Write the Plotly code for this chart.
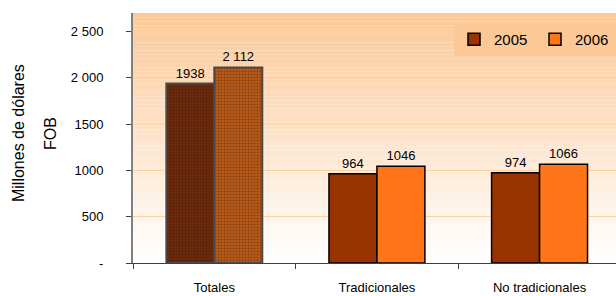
import plotly.graph_objects as go

categories = ["Totales", "Tradicionales", "No tradicionales"]
series_names = ["2005", "2006"]
values_2005 = [1938, 964, 974]
values_2006 = [2112, 1046, 1066]
labels_2005 = ["1938", "964", "974"]
labels_2006 = ["2 112", "1046", "1066"]
y_tickvals = [0, 500, 1000, 1500, 2000, 2500]
y_ticktext = ["-", "500", "1000", "1500", "2 000", "2 500"]

C2005 = "#993300"
C2006 = "#FF7518"
FONT = "Liberation Sans, Arial, sans-serif"

fig = go.Figure()

# Totales (patterned, no legend)
fig.add_trace(go.Bar(
    x=categories[:1], y=values_2005[:1], text=labels_2005[:1], offsetgroup="a",
    marker=dict(color="#6E2A0C", line=dict(color="#4A4A4A", width=2),
                pattern=dict(shape="+", fgcolor="#3A1A08", size=3, solidity=0.35)),
    showlegend=False, name="2005"))
fig.add_trace(go.Bar(
    x=categories[:1], y=values_2006[:1], text=labels_2006[:1], offsetgroup="b",
    marker=dict(color="#B85A18", line=dict(color="#4A4A4A", width=2),
                pattern=dict(shape="+", fgcolor="#5A2A0C", size=3, solidity=0.35)),
    showlegend=False, name="2006"))
# Others
fig.add_trace(go.Bar(
    x=categories[1:], y=values_2005[1:], text=labels_2005[1:], offsetgroup="a",
    marker=dict(color=C2005, line=dict(color="#000000", width=1.5)), name=series_names[0]))
fig.add_trace(go.Bar(
    x=categories[1:], y=values_2006[1:], text=labels_2006[1:], offsetgroup="b",
    marker=dict(color=C2006, line=dict(color="#000000", width=1.5)), name=series_names[1]))

fig.update_traces(textposition="outside", cliponaxis=False,
                  textfont=dict(family=FONT, size=13, color="#000000"))

# gradient background
N = 60
top = (252, 201, 152)
bot = (255, 255, 255)
for i in range(N):
    t = i / (N - 1)
    c = tuple(round(bot[k] + (top[k] - bot[k]) * t) for k in range(3))
    fig.add_shape(type="rect", xref="x domain", yref="y domain",
                  x0=0, x1=1, y0=i / N, y1=(i + 1) / N,
                  fillcolor="rgb(%d,%d,%d)" % c, line=dict(width=0), layer="below")

fig.add_annotation(text="Millones de dólares", xref="paper", yref="paper",
                   x=-0.238, y=0.52, textangle=-90, showarrow=False,
                   xanchor="center", yanchor="middle",
                   font=dict(family=FONT, size=16, color="#000000"))
fig.add_annotation(text="FOB", xref="paper", yref="paper",
                   x=-0.172, y=0.52, textangle=-90, showarrow=False,
                   xanchor="center", yanchor="middle",
                   font=dict(family=FONT, size=16, color="#000000"))

fig.update_layout(
    width=616, height=296,
    margin=dict(l=133, r=0, t=13, b=33),
    paper_bgcolor="white", plot_bgcolor="rgba(0,0,0,0)",
    barmode="group", bargap=0.41, bargroupgap=0,
    font=dict(family=FONT, size=13, color="#000000"),
    legend=dict(orientation="h", x=1.0, y=0.96, xanchor="right", yanchor="top",
                bgcolor="#FBC896", font=dict(size=15), entrywidth=36,
                itemwidth=30, tracegroupgap=0),
    xaxis=dict(range=[-0.5, 2.47], tickmode="array", tickvals=categories,
               tickson="boundaries", ticks="outside", automargin=False,
               ticklen=5, tickcolor="#404040", showline=True, linecolor="#404040",
               linewidth=1, showgrid=False, ticklabelstandoff=12,
               tickfont=dict(size=13)),
    yaxis=dict(range=[0, 2700], tickvals=y_tickvals, ticktext=y_ticktext,
               ticks="outside", ticklen=5, tickcolor="#404040", showline=True,
               linecolor="#808080", linewidth=2, showgrid=True, gridcolor="#FCD0A2",
               gridwidth=1, zeroline=False, ticklabelstandoff=20, automargin=False,
               tickfont=dict(size=13)),
)

fig.write_html("out.html", config={"displayModeBar": False},
               post_script="document.body.style.margin='0';")
